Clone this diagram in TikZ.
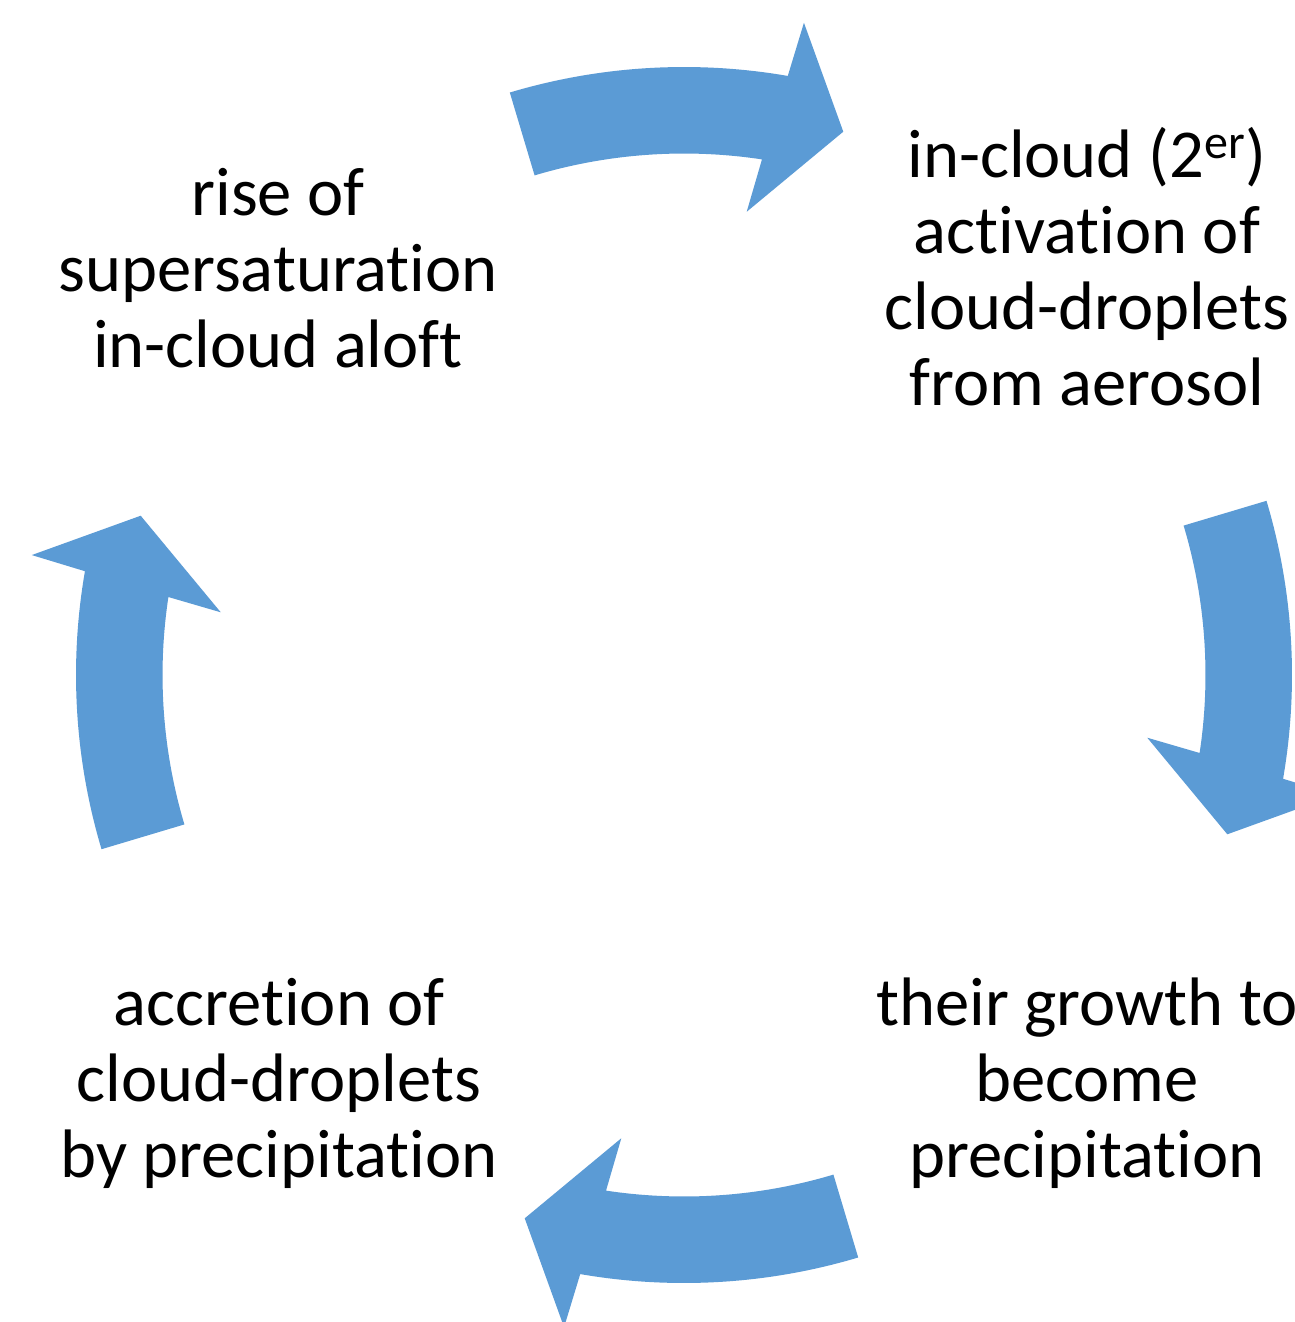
\documentclass[tikz,border=0pt]{standalone}
\usepackage{fontspec}
\setmainfont{Carlito}[Ligatures=NoCommon]
\definecolor{arrowblue}{HTML}{5B9BD5}
\begin{document}
\begin{tikzpicture}[x=0.5pt,y=0.5pt,
  lbl/.style={align=center,font=\fontsize{34.3}{38}\selectfont,inner sep=0pt,anchor=base},
  bluearrow/.style={fill=arrowblue}]
\clip (0,0) rectangle (1295,-1322);
\fill[white] (0,0) rectangle (1295,-1322);
\node[lbl] (rise) at (278,-367) {rise of\\supersaturation\\in-cloud aloft};
\node[lbl] (act) at (1087,-405) {in-cloud (2\textsuperscript{er})\\activation of\\cloud-droplets\\from aerosol};
\node[lbl] (grow) at (1087,-1177) {their growth to\\become\\precipitation};
\node[lbl] (accr) at (279,-1177) {accretion of\\cloud-droplets\\by precipitation};
\foreach \k in {0,1,2,3}{
\begin{scope}[shift={(684,-675)},rotate=-90*\k]
\fill[bluearrow] (106.65:608) arc[start angle=106.65,end angle=80.17,radius=608]
  -- (79.58:663.2) -- (73.66:566.2) -- (82.29:467.5) -- (81.4:521.5)
  arc[start angle=81.4,end angle=106.65,radius=521.5] -- cycle;
\end{scope}}
\end{tikzpicture}
\end{document}
